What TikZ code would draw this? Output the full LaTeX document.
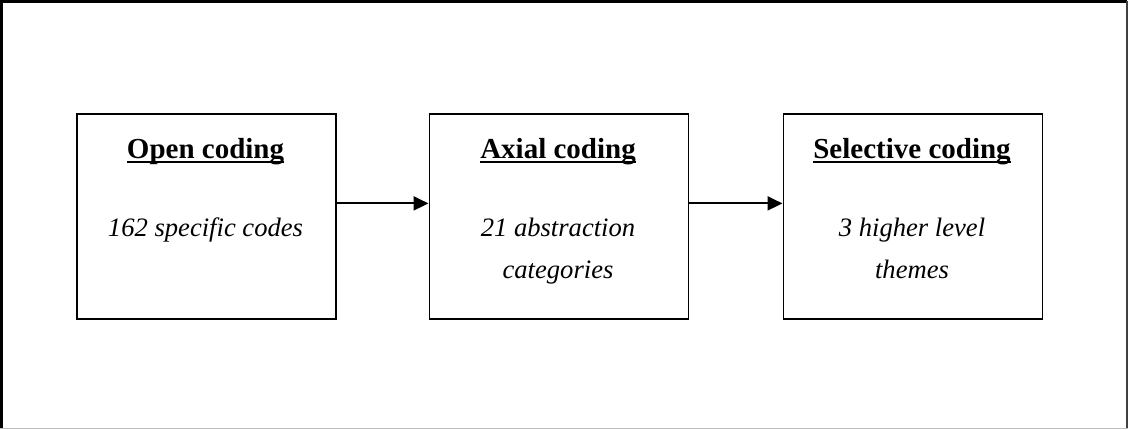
\documentclass[tikz,border=0pt]{standalone}
\usepackage{fontspec}
\setmainfont{Liberation Serif}
\usetikzlibrary{arrows.meta}
\definecolor{framegray}{gray}{0.75}
\definecolor{framedark}{gray}{0.25}
\tikzset{
  stagebox/.style={draw=black, line width=1.8pt, minimum width=259pt, minimum height=205pt, inner sep=0pt, anchor=north west},
  titletext/.style={font=\fontsize{29}{34}\selectfont\bfseries, inner sep=0pt, anchor=base},
  bodytext/.style={font=\fontsize{26.6}{41.6}\selectfont\itshape, inner sep=0pt, anchor=base, align=center},
  uline/.style={line width=2pt},
  flow/.style={line width=2pt, -{Triangle[length=15pt,width=14pt]}},
}
\begin{document}
\begin{tikzpicture}[x=1pt,y=-1pt]
\useasboundingbox (0,0) rectangle (1128,429);
\draw[line width=2.5pt] (1.3,428.5) -- (1.3,1.3) -- (1126.5,1.3);
\draw[line width=2pt, draw=framedark] (1126.8,1.3) -- (1126.8,428.5);
\draw[line width=1pt, draw=framegray] (0,428.4) -- (1128,428.4);
\node[stagebox] (b1) at (76,113) {};
\node[stagebox] (b2) at (428.5,113) {};
\node[stagebox] (b3) at (782.5,113) {};
\node[titletext] (t1) at (205.5,158.5) {Open coding};
\node[titletext] (t2) at (558,158.5) {Axial coding};
\node[titletext] (t3) at (912,158.5) {Selective coding};
\foreach \t in {t1,t2,t3}{
  \draw[uline] ([yshift=-3pt]\t.base west) -- ([yshift=-3pt]\t.base east);
}
\node[bodytext] (c1) at (205.5,236.7) {162 specific codes};
\node[bodytext] (c2) at (558,278.3) {21 abstraction\\categories};
\node[bodytext] (c3) at (912,278.3) {3 higher level\\themes};
\draw[flow] ([yshift=13pt]b1.east) -- ([yshift=13pt]b2.west);
\draw[flow] ([yshift=13pt]b2.east) -- ([yshift=13pt]b3.west);
\end{tikzpicture}
\end{document}
